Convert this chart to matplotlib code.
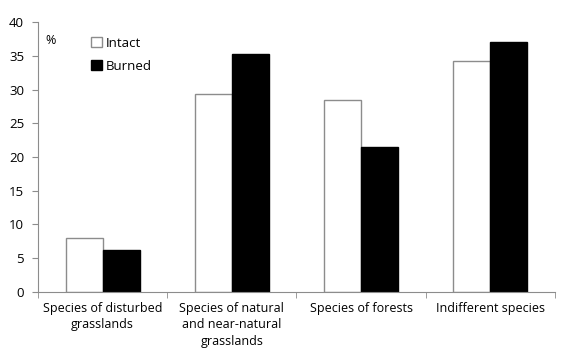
import matplotlib
matplotlib.use("Agg")
import matplotlib.pyplot as plt
import numpy as np

plt.rcParams['font.family'] = ['Open Sans', 'DejaVu Sans']

categories = ["Species of disturbed\ngrasslands", "Species of natural\nand near-natural\ngrasslands",
              "Species of forests", "Indifferent species"]
intact = [8.0, 29.3, 28.5, 34.3]
burned = [6.2, 35.2, 21.5, 37.0]
yticks = [0, 5, 10, 15, 20, 25, 30, 35, 40]

fig = plt.figure(figsize=(5.63, 3.5), dpi=100)
ax = fig.add_axes([0.0675, 0.166, 0.918, 0.771])

x = np.arange(len(categories))
w = 0.287
ax.bar(x - w/2, intact, width=w, color="white", edgecolor="#8c8c8c", linewidth=1, label="Intact")
ax.bar(x + w/2, burned, width=w, color="black", edgecolor="black", linewidth=1, label="Burned")

ax.set_xlim(-0.5, len(categories) - 0.5)
ax.set_ylim(0, 40)
ax.set_yticks(yticks)
ax.set_xticks(x)
ax.set_xticklabels(categories, fontsize=9, linespacing=1.38)
ax.set_xticks(np.arange(-0.5, len(categories)), minor=True)
ax.tick_params(axis='x', which='major', length=0, pad=7)
ax.tick_params(axis='x', which='minor', length=4, color="#8c8c8c")
ax.tick_params(axis='y', length=4, color="#8c8c8c", labelsize=9.5, pad=6)

for s in ['top', 'right']:
    ax.spines[s].set_visible(False)
for s in ['left', 'bottom']:
    ax.spines[s].set_color("#8c8c8c")

ax.text(0.015, 0.955, "%", transform=ax.transAxes, fontsize=9, va='top')
leg = ax.legend(loc='upper left', bbox_to_anchor=(0.08, 0.99), frameon=False, fontsize=9.5,
                handlelength=0.8, handleheight=0.8, handletextpad=0.3, labelspacing=0.75)

fig.savefig("out.png", dpi=100)
